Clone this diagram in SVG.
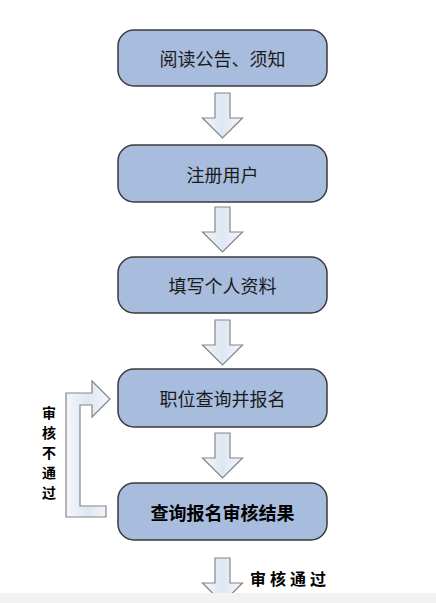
<svg xmlns="http://www.w3.org/2000/svg" width="436" height="603" viewBox="0 0 436 603">
<style>
.box{fill:#a8bcdd;stroke:#3a3a3a;stroke-width:1.5}
.arr{fill:url(#ag);stroke:#858585;stroke-width:1.2}
.t{font-family:"Noto Sans CJK SC","Noto Sans",sans-serif;font-size:18px;fill:#1a1a1a;text-anchor:middle;dominant-baseline:central}
.b{font-weight:bold;fill:#000}
.lbl{font-family:"Noto Sans CJK SC",sans-serif;font-size:16px;font-weight:bold;fill:#000;text-anchor:middle;dominant-baseline:central}
.vl{font-size:14px}
</style>
<defs>
<linearGradient id="ag" x1="0" y1="0" x2="1" y2="0">
<stop offset="0" stop-color="#f4f7fb"/>
<stop offset="0.5" stop-color="#dde7f3"/>
<stop offset="1" stop-color="#f4f7fb"/>
</linearGradient>
<path id="down" d="M-7.5,0 H7.5 V25 H20 L0,45 L-20,25 H-7.5 Z"/>
</defs>
<rect width="436" height="603" fill="#fff"/>
<rect x="0" y="593" width="436" height="10" fill="#f2f2f2"/>
<g id="connectors">
<use href="#down" class="arr" x="222.5" y="93"/>
<use href="#down" class="arr" x="222.5" y="207"/>
<use href="#down" class="arr" x="222.5" y="320"/>
<use href="#down" class="arr" x="222.5" y="433"/>
<svg x="0" y="0" width="436" height="593" overflow="hidden"><use href="#down" class="arr" x="222.5" y="558"/></svg>
<polygon class="arr" points="66,517 106,517 106,506 80,506 80,405 92,405 92,417 110,399 92,381 92,393 66,393"/>
<text class="lbl vl"><tspan x="49" y="412">审</tspan><tspan x="49" y="432">核</tspan><tspan x="49" y="452">不</tspan><tspan x="49" y="472">通</tspan><tspan x="49" y="492">过</tspan></text>
<text class="lbl" x="290" y="578" letter-spacing="4">审核通过</text>
</g>
<g id="n1"><rect class="box" x="118" y="30" width="209" height="56" rx="16"/><text class="t" x="222.5" y="58">阅读公告、须知</text></g>
<g id="n2"><rect class="box" x="118" y="145" width="209" height="57" rx="16"/><text class="t" x="222.5" y="173.5">注册用户</text></g>
<g id="n3"><rect class="box" x="118" y="257" width="209" height="56" rx="16"/><text class="t" x="222.5" y="285">填写个人资料</text></g>
<g id="n4"><rect class="box" x="118" y="369" width="209" height="58" rx="16"/><text class="t" x="222.5" y="398">职位查询并报名</text></g>
<g id="n5"><rect class="box" x="118" y="483" width="209" height="57" rx="16"/><text class="t b" x="222.5" y="511.5">查询报名审核结果</text></g>
</svg>
